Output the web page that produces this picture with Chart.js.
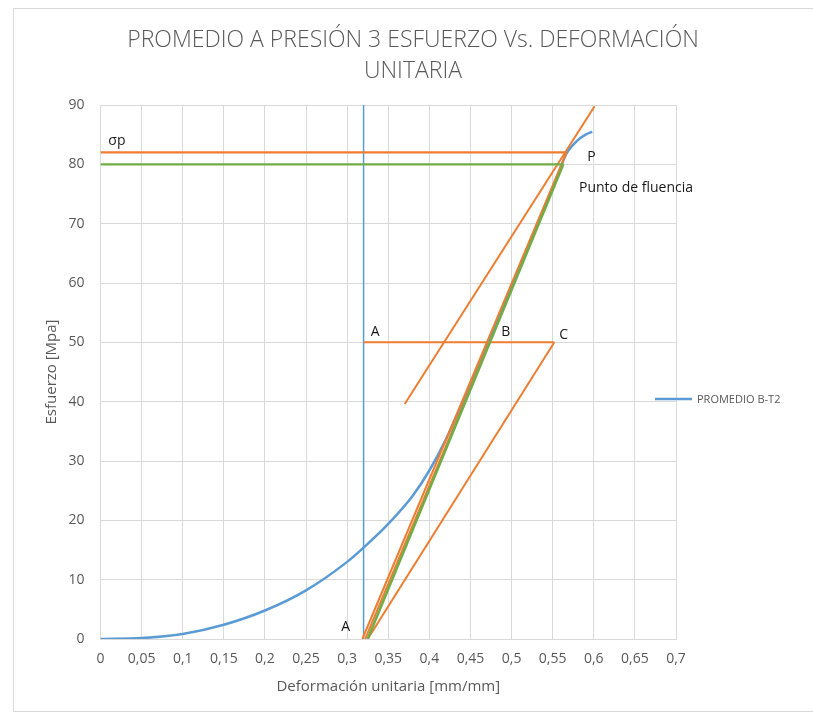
<!DOCTYPE html>
<html>
<head>
<meta charset="utf-8">
<script src="https://cdn.jsdelivr.net/npm/chart.js@4.4.1/dist/chart.umd.min.js"></script>
<style>
  html, body { margin: 0; padding: 0; background: #ffffff; }
  canvas { display: block; }
</style>
</head>
<body>
<canvas id="chart" width="813" height="715"></canvas>
<script>
// Curva promedio esfuerzo–deformación (PROMEDIO B-T2)
const strain = [0, 0.05, 0.1, 0.15, 0.2, 0.25, 0.3, 0.32, 0.35, 0.38, 0.4, 0.42, 0.45, 0.5, 0.55, 0.56, 0.567, 0.58, 0.59, 0.598];
const stress = [0, 0.15, 0.85, 2.4, 4.8, 8.2, 13.0, 15.4, 19.4, 24.2, 28.4, 33.6, 43.0, 59.5, 76.2, 79.6, 81.9, 84.0, 85.0, 85.5];

// Líneas de construcción del punto de fluencia
const sigmaPX = [0, 0.567],      sigmaPY = [82, 82];       // σp
const level80X = [0, 0.563],     level80Y = [80, 80];
const refX = [0.32, 0.32],       refY = [0, 90];           // vertical en A
const tangentX = [0.325, 0.563], tangentY = [0, 80];       // tangente (zona elástica)
const chordPX = [0.3185, 0.567], chordPY = [0, 82];        // A → P
const chordBX = [0.322, 0.473],  chordBY = [0, 50];        // A → B
const abcX = [0.32, 0.552],      abcY = [50, 50];          // A – B – C
const chordCX = [0.325, 0.552],  chordCY = [0, 50];        // A → C
const parallelX = [0.37, 0.601], parallelY = [39.6, 89.8]; // paralela a AC por P

// Rótulos
const noteText = ['σp', 'P', 'Punto de fluencia', 'A', 'B', 'C', 'A'];
const noteX = [0.0095, 0.592, 0.582, 0.3287, 0.4875, 0.558, 0.2927];
const noteY = [84, 81.3, 76, 51.8, 51.8, 51.3, 2.1];

// Ejes
const xTickValues = [0, 0.05, 0.1, 0.15, 0.2, 0.25, 0.3, 0.35, 0.4, 0.45, 0.5, 0.55, 0.6, 0.65, 0.7];
const xTickLabels = ['0', '0,05', '0,1', '0,15', '0,2', '0,25', '0,3', '0,35', '0,4', '0,45', '0,5', '0,55', '0,6', '0,65', '0,7'];
const yTickValues = [0, 10, 20, 30, 40, 50, 60, 70, 80, 90];
const yTickLabels = ['0', '10', '20', '30', '40', '50', '60', '70', '80', '90'];

const titleLines = ['PROMEDIO A PRESIÓN 3 ESFUERZO Vs. DEFORMACIÓN', 'UNITARIA'];
const seriesName = 'PROMEDIO B-T2';

const BLUE = '#5b9bd5', ORANGE = '#ed7d31', GREEN = '#70ad47';
const GRID = '#d9d9d9', TEXT = '#595959';

const pts = (xs, ys) => xs.map((x, i) => ({ x: x, y: ys[i] }));

function seg(label, xs, ys, color, width, order) {
  return {
    label: label,
    data: pts(xs, ys),
    borderColor: color,
    backgroundColor: color,
    borderWidth: width,
    pointRadius: 0,
    showLine: true,
    fill: false,
    order: order
  };
}

const datasets = [
  {
    label: seriesName,
    data: pts(strain, stress),
    borderColor: BLUE,
    backgroundColor: BLUE,
    borderWidth: 2.5,
    pointRadius: 0,
    showLine: true,
    fill: false,
    cubicInterpolationMode: 'monotone',
    order: 4
  },
  seg('ref', refX, refY, BLUE, 1.5, 6),
  seg('sigmaP', sigmaPX, sigmaPY, ORANGE, 2.2, 3),
  seg('nivel80', level80X, level80Y, GREEN, 2.2, 2),
  seg('tangente', tangentX, tangentY, GREEN, 2.5, 1),
  seg('AP', chordPX, chordPY, ORANGE, 2, 3),
  seg('AB', chordBX, chordBY, ORANGE, 2, 3),
  seg('ABC', abcX, abcY, ORANGE, 2, 3),
  seg('AC', chordCX, chordCY, ORANGE, 2, 3),
  seg('paralela', parallelX, parallelY, ORANGE, 2, 3)
];

const frameAndText = {
  id: 'frameAndText',
  beforeDraw(chart) {
    const ctx = chart.ctx;
    ctx.save();
    ctx.fillStyle = '#ffffff';
    ctx.fillRect(0, 0, chart.width, chart.height);
    ctx.strokeStyle = GRID;
    ctx.lineWidth = 1;
    ctx.strokeRect(13.5, 8.5, chart.width, 703);
    ctx.restore();
  },
  afterDraw(chart) {
    const ctx = chart.ctx;
    const xs = chart.scales.x, ys = chart.scales.y;
    ctx.save();
    // título
    ctx.fillStyle = TEXT;
    ctx.textAlign = 'center';
    ctx.textBaseline = 'middle';
    ctx.font = '300 23px "Open Sans", sans-serif';
    titleLines.forEach((t, i) => ctx.fillText(t, 413, 40 + i * 31));
    // rótulos sobre la gráfica
    ctx.fillStyle = '#1a1a1a';
    ctx.textAlign = 'left';
    ctx.font = '14px "Open Sans", sans-serif';
    noteText.forEach((t, i) => {
      ctx.fillText(t, xs.getPixelForValue(noteX[i]), ys.getPixelForValue(noteY[i]));
    });
    // leyenda
    const ly = 399;
    ctx.strokeStyle = BLUE;
    ctx.lineWidth = 2.5;
    ctx.beginPath();
    ctx.moveTo(655, ly);
    ctx.lineTo(692, ly);
    ctx.stroke();
    ctx.fillStyle = TEXT;
    ctx.font = '11px "Open Sans", sans-serif';
    ctx.textBaseline = 'middle';
    ctx.fillText(seriesName, 697, ly + 1);
    ctx.restore();
  }
};

new Chart(document.getElementById('chart'), {
  type: 'scatter',
  data: { datasets: datasets },
  options: {
    responsive: false,
    animation: false,
    events: [],
    layout: { padding: { left: 20, right: 137, top: 105, bottom: 10 } },
    plugins: {
      legend: { display: false },
      title: { display: false },
      tooltip: { enabled: false }
    },
    scales: {
      x: {
        type: 'linear',
        min: 0,
        max: 0.7,
        afterBuildTicks(scale) { scale.ticks = xTickValues.map(v => ({ value: v })); },
        afterFit(scale) { scale.height = 66; },
        ticks: {
          color: TEXT,
          font: { family: '"Open Sans", sans-serif', size: 14 },
          padding: 12,
          maxRotation: 0,
          autoSkip: false,
          callback: (v) => xTickLabels[xTickValues.findIndex(t => Math.abs(t - v) < 1e-9)]
        },
        grid: { color: GRID, drawTicks: false },
        border: { color: GRID },
        title: {
          display: true,
          text: 'Deformación unitaria [mm/mm]',
          color: TEXT,
          font: { family: '"Open Sans", sans-serif', size: 15 },
          padding: { top: 0, bottom: 9 }
        }
      },
      y: {
        type: 'linear',
        min: 0,
        max: 90,
        afterBuildTicks(scale) { scale.ticks = yTickValues.map(v => ({ value: v })); },
        afterFit(scale) { scale.width = 80.5; },
        ticks: {
          color: TEXT,
          font: { family: '"Open Sans", sans-serif', size: 14 },
          padding: 16,
          autoSkip: false,
          callback: (v) => yTickLabels[yTickValues.indexOf(v)]
        },
        grid: { color: GRID, drawTicks: false },
        border: { color: GRID },
        title: {
          display: true,
          text: 'Esfuerzo [Mpa]',
          color: TEXT,
          font: { family: '"Open Sans", sans-serif', size: 15 },
          padding: { top: 23, bottom: 0 }
        }
      }
    }
  },
  plugins: [frameAndText]
});
</script>
</body>
</html>
